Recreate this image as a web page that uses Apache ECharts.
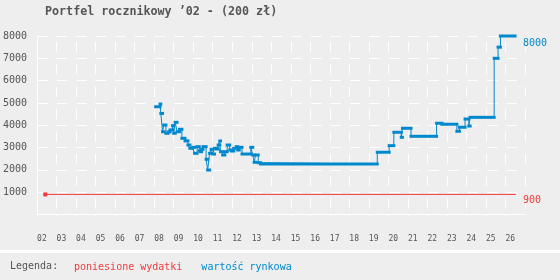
<!DOCTYPE html>
<html>
<head>
<meta charset="utf-8">
<script src="https://cdn.jsdelivr.net/npm/echarts@6/dist/echarts.min.js"></script>
<style>
html, body { margin: 0; padding: 0; background: #eeeeee; }
#main { width: 560px; height: 280px; }
</style>
</head>
<body>
<div id="main"></div>
<script>
// etykiety osi X (lata 2002-2026)
var lata = ['02', '03', '04', '05', '06', '07', '08', '09', '10', '11', '12', '13',
	'14', '15', '16', '17', '18', '19', '20', '21', '22', '23', '24', '25', '26'];

// poniesione wydatki
var wydatkiLata = [2002.42, 2026.54];
var wydatkiKwoty = [900, 900];

// wartosc rynkowa - punkty zmian (rok, kwota), ostatni odcinek do wartoscKoniec
var wartoscLata = [2008.08, 2008.30, 2008.34, 2008.43, 2008.49, 2008.60, 2008.71, 2008.81,
	2008.94, 2009.00, 2009.08, 2009.17, 2009.30, 2009.42, 2009.58, 2009.73, 2009.83,
	2009.97, 2010.07, 2010.20, 2010.31, 2010.37, 2010.43, 2010.50, 2010.66, 2010.74,
	2010.84, 2010.92, 2011.00, 2011.09, 2011.19, 2011.28, 2011.36, 2011.40, 2011.51,
	2011.62, 2011.74, 2011.87, 2011.96, 2012.08, 2012.21, 2012.28, 2012.36, 2012.50,
	2012.95, 2013.05, 2013.12, 2013.20, 2013.33, 2013.45, 2019.43, 2020.04, 2020.28,
	2020.66, 2020.72, 2021.16, 2022.47, 2022.74, 2023.51, 2023.64, 2023.93, 2024.12,
	2024.19, 2025.42, 2025.62, 2025.74];
var wartoscKwoty = [4830, 4950, 4530, 3710, 4010, 3640, 3700, 3790,
	3980, 3640, 4130, 3710, 3820, 3415, 3300, 3115, 2967,
	3010, 2743, 3040, 2860, 2815, 2920, 3040, 2475, 1995,
	2743, 2920, 2710, 2967, 2935, 3115, 3295, 2815, 2667,
	2815, 3115, 2890, 2846, 2967, 3040, 2890, 3010, 2710,
	3010, 2667, 2340, 2667, 2322, 2263, 2790, 3085, 3685,
	3460, 3865, 3505, 4090, 4045, 3730, 3910, 4280, 3965,
	4355, 7000, 7500, 8000];
var wartoscKoniec = 2026.49;

var kolorWydatki = '#ee3c3c';
var kolorWartosc = '#0088cc';
var font = 'DejaVu Sans Mono';

var wydatkiDane = wydatkiLata.map(function (x, i) {
	return i === 0 ? [x, wydatkiKwoty[i]] : { value: [x, wydatkiKwoty[i]], symbol: 'none' };
});
var wartoscLinia = wartoscLata.map(function (x, i) { return [x, wartoscKwoty[i]]; });
wartoscLinia.push([wartoscKoniec, wartoscKwoty[wartoscKwoty.length - 1]]);
var wartoscOdcinki = wartoscLata.map(function (x, i) {
	var x2 = i < wartoscLata.length - 1 ? wartoscLata[i + 1] : wartoscKoniec;
	return [x, x2, wartoscKwoty[i]];
});

var chart = echarts.init(document.getElementById('main'));
var option = {
	backgroundColor: '#eeeeee',
	animation: false,
	title: {
		text: 'Portfel rocznikowy ’02 - (200 zł)',
		left: 45,
		top: 6,
		padding: 0,
		textStyle: { fontFamily: font, fontSize: 11.7, fontWeight: 'bold', color: '#555555' }
	},
	legend: {
		left: 69,
		top: 260,
		padding: 0,
		icon: 'none',
		itemWidth: 0,
		itemHeight: 14,
		itemGap: 14,
		selectedMode: false,
		textStyle: { fontFamily: font, fontSize: 10 },
		data: [
			{ name: 'poniesione wydatki', textStyle: { color: kolorWydatki } },
			{ name: 'wartość rynkowa', textStyle: { color: kolorWartosc } }
		]
	},
	graphic: [
		{ type: 'rect', left: 0, top: 250, shape: { width: 560, height: 3 }, style: { fill: '#ffffff' } },
		{ type: 'text', left: 10, top: 261, style: { text: 'Legenda:', fill: '#555555', font: '10px ' + font } }
	],
	grid: { left: 36, right: 35, top: 36, bottom: 65.5 },
	xAxis: {
		type: 'value',
		min: 2002,
		max: 2027,
		interval: 1,
		axisLine: { show: true, lineStyle: { color: '#ffffff', width: 1 } },
		axisTick: { show: true, length: 2, lineStyle: { color: '#ffffff' } },
		axisLabel: {
			margin: 20,
			align: 'left',
			showMaxLabel: false,
			fontFamily: font,
			fontSize: 8,
			color: '#555555',
			formatter: function (v) { return lata[v - 2002] || ''; }
		},
		splitLine: {
			show: true,
			lineStyle: { color: '#ffffff', width: 1, type: [10, 12.31], dashOffset: 16.1 }
		}
	},
	yAxis: {
		type: 'value',
		min: 0,
		max: 8000,
		interval: 1000,
		axisLine: { show: true, lineStyle: { color: '#ffffff', width: 1 } },
		axisTick: { show: false },
		axisLabel: {
			margin: 10,
			showMinLabel: false,
			fontFamily: font,
			fontSize: 10,
			color: '#555555',
			formatter: function (v) { return String(v); }
		},
		splitLine: {
			show: true,
			lineStyle: { color: '#ffffff', width: 1, type: [10.5, 9.06] }
		}
	},
	series: [
		{
			name: 'poniesione wydatki',
			type: 'line',
			data: wydatkiDane,
			symbol: 'rect',
			symbolSize: 4,
			showSymbol: true,
			lineStyle: { color: kolorWydatki, width: 1 },
			itemStyle: { color: kolorWydatki },
			endLabel: {
				show: true,
				distance: 7,
				offset: [0, 6],
				fontFamily: font,
				fontSize: 10,
				color: kolorWydatki,
				formatter: function (p) { return p.value[1]; }
			},
			z: 2
		},
		{
			name: 'wartość rynkowa',
			type: 'line',
			step: 'end',
			data: wartoscLinia,
			showSymbol: false,
			lineStyle: { color: kolorWartosc, width: 1 },
			itemStyle: { color: kolorWartosc },
			endLabel: {
				show: true,
				distance: 8,
				offset: [0, 7],
				fontFamily: font,
				fontSize: 10,
				color: kolorWartosc,
				formatter: function (p) { return p.value[1]; }
			},
			z: 3
		},
		{
			name: 'odcinki',
			type: 'custom',
			data: wartoscOdcinki,
			encode: { x: [0, 1], y: 2 },
			renderItem: function (params, api) {
				var a = api.coord([api.value(0), api.value(2)]);
				var b = api.coord([api.value(1), api.value(2)]);
				return {
					type: 'rect',
					shape: { x: a[0] - 1.5, y: a[1] - 1.5, width: Math.max(b[0] - a[0], 0) + 3, height: 3 },
					style: { fill: kolorWartosc }
				};
			},
			z: 4
		}
	]
};
chart.setOption(option);
</script>
</body>
</html>
